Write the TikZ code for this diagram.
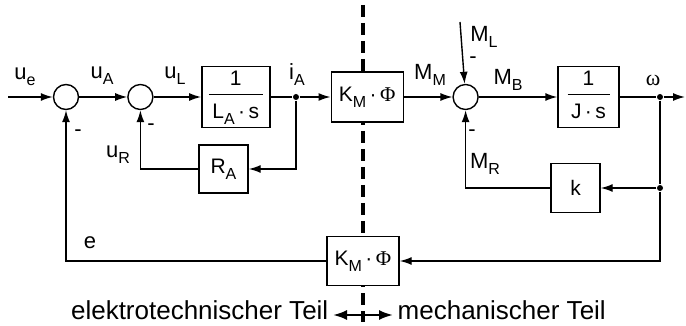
\documentclass[tikz,border=0pt]{standalone}
\usepackage{fontspec}
\setmainfont{Liberation Sans}
\newfontfamily\greekfont{Liberation Serif}
\usetikzlibrary{positioning,arrows.meta}
\setlength{\arrayrulewidth}{1.2pt}
\newcommand{\sub}[1]{\raisebox{-6pt}{\fontsize{16}{16}\selectfont #1}}

\begin{document}
\begin{tikzpicture}[x=1pt, y=-1pt, >={Latex[length=12pt,width=8pt]}, line width=1.4pt,
  blk/.style={draw, fill=white, rectangle, inner sep=0pt, align=center, font=\fontsize{21}{24}\selectfont},
  sum/.style={draw, circle, minimum size=25pt, inner sep=0pt},
  dot/.style={circle, fill, inner sep=0pt, minimum size=6pt},
  lbl/.style={font=\fontsize{22}{24}\selectfont, inner sep=0pt},
  sep/.style={line width=4pt, dash pattern=on 12pt off 6pt}]
  \useasboundingbox (0,0) rectangle (686,326);

  % dividing line between both parts
  \coordinate (septop) at (363,5);
  \coordinate (sepbot) at (363,322);
  \draw[sep] (septop) -- (sepbot);

  % forward path
  \coordinate (in) at (8,97);
  \node[sum] (s1) at (66,97) {};
  \node[sum, right=48pt of s1] (s2) {};
  \node[blk, minimum width=68pt, minimum height=61pt, right=47.5pt of s2] (bL)
    {\begin{tabular}{@{\,}c@{\,}}1\\[2pt]\hline\rule{0pt}{23pt}L\sub{A}\,·\,s\end{tabular}};
  \node[blk, minimum width=72pt, minimum height=50pt, right=60pt of bL] (bK1) {K\sub{M}\,·\,{\greekfont Φ}};
  \node[sum, right=48.5pt of bK1] (s3) {};
  \node[blk, minimum width=61pt, minimum height=61pt, right=78.5pt of s3] (bJ)
    {\begin{tabular}{@{\,}c@{\,}}1\\[2pt]\hline\rule{0pt}{23pt}J\,·\,s\end{tabular}};
  \node[dot] (jI) at (296,97) {};
  \node[dot] (jw) at (660,97) {};
  \coordinate (out) at (685,97);
  \coordinate (ML) at (460,22);

  % feedback paths
  \node[blk, minimum width=49pt, minimum height=48pt] (bR) at (223.5,169) {R\sub{A}};
  \node[dot] (jk) at (660,188) {};
  \node[blk, minimum width=49pt, minimum height=49pt] (bk) at (575.5,188) {k};
  \node[blk, minimum width=72pt, minimum height=49pt] (bK2) at (363,261) {K\sub{M}\,·\,{\greekfont Φ}};

  \draw[->] (in) -- (s1);
  \draw[->] (s1) -- (s2);
  \draw[->] (s2) -- (bL);
  \draw (bL) -- (jI);
  \draw[->] (jI) -- (bK1);
  \draw[->] (bK1) -- (s3);
  \draw[->] (s3) -- (bJ);
  \draw (bJ) -- (jw);
  \draw[->] (jw) -- (out);
  \draw[->] (ML) -- (s3);
  \draw[->] (jI) |- (bR);
  \draw[->] (bR) -| (s2);
  \draw (jw) -- (jk);
  \draw[->] (jk) -- (bk);
  \draw[->] (bk) -| (s3);
  \draw[->] (jk) |- (bK2);
  \draw[->] (bK2) -| (s1);

  % signal names
  \node[lbl] (lue) at (25,77) {u\sub{e}};
  \node[lbl] (luA) at (102,76) {u\sub{A}};
  \node[lbl] (luL) at (175,76) {u\sub{L}};
  \node[lbl] (liA) at (297,75) {i\sub{A}};
  \node[lbl] (luR) at (118,155) {u\sub{R}};
  \node[lbl] (lm1) at (78,133) {-};
  \node[lbl] (lm2) at (151,127) {-};
  \node[lbl] (lMM) at (430,75) {M\sub{M}};
  \node[lbl] (lML) at (484,37) {M\sub{L}};
  \node[lbl] (lm3) at (473,60) {-};
  \node[lbl] (lMB) at (508,80) {M\sub{B}};
  \node[lbl] (lw) at (653,80) {\greekfont ω};
  \node[lbl] (lm4) at (472,133) {-};
  \node[lbl] (lMR) at (485,164) {M\sub{R}};
  \node[lbl] (le) at (90,243) {e};

  % parts of the system
  \node[lbl, font=\fontsize{26}{28}\selectfont, anchor=east] (tEl) at (329,310) {elektrotechnischer Teil};
  \node[lbl, font=\fontsize{26}{28}\selectfont, anchor=west] (tMe) at (397,310) {mechanischer Teil};
  \coordinate (mid) at (363,315);
  \coordinate (tipL) at (333,315);
  \coordinate (tipR) at (393,315);
  \draw[line width=2.2pt, -{Latex[length=14pt,width=10pt]}] (mid) -- (tipL);
  \draw[line width=2.2pt, -{Latex[length=14pt,width=10pt]}] (mid) -- (tipR);
\end{tikzpicture}
\end{document}
